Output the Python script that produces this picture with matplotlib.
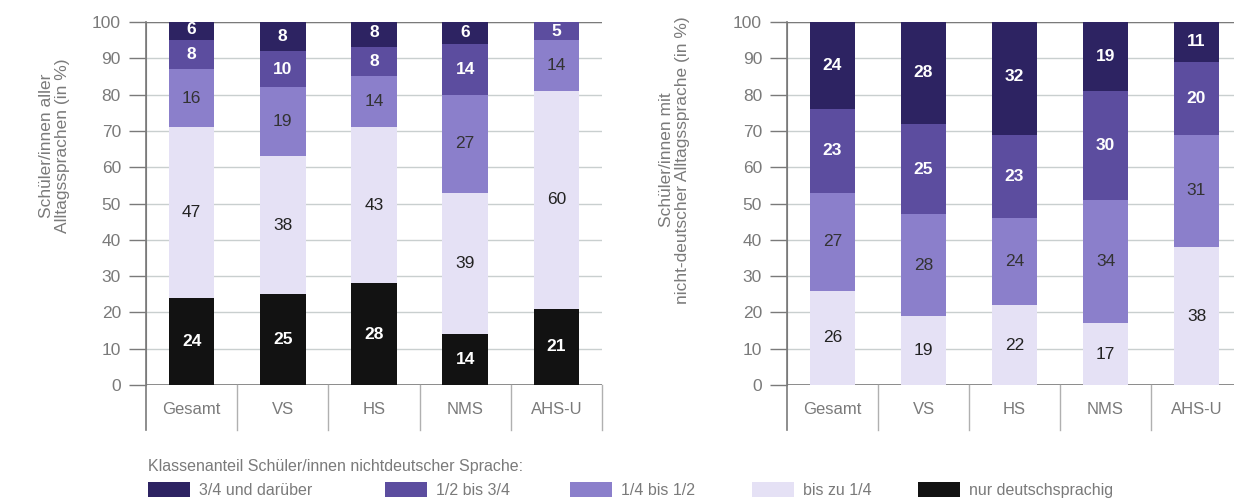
import matplotlib
matplotlib.use("Agg")
import matplotlib.pyplot as plt
import numpy as np

plt.rcParams['font.family'] = ['Liberation Sans', 'DejaVu Sans']

categories = ['Gesamt', 'VS', 'HS', 'NMS', 'AHS-U']

# Schüler/innen aller Alltagssprachen (in %)
left_nur_deutsch = [24, 25, 28, 14, 21]
left_bis_viertel = [47, 38, 43, 39, 60]
left_viertel_halb = [16, 19, 14, 27, 14]
left_halb_dreiviertel = [8, 10, 8, 14, 5]
left_ab_dreiviertel = [6, 8, 8, 6, 0]

# Schüler/innen mit nicht-deutscher Alltagssprache (in %)
right_bis_viertel = [26, 19, 22, 17, 38]
right_viertel_halb = [27, 28, 24, 34, 31]
right_halb_dreiviertel = [23, 25, 23, 30, 20]
right_ab_dreiviertel = [24, 28, 32, 19, 11]

legend_labels = ['3/4 und darüber', '1/2 bis 3/4', '1/4 bis 1/2',
                 'bis zu 1/4', 'nur deutschsprachig']

c_dark = '#2d2362'
c_mid = '#5c4d9f'
c_light = '#8b7fcb'
c_pale = '#e5e1f5'
c_black = '#121212'
grey = '#7a7a7a'

fig = plt.figure(figsize=(12.34, 5), dpi=100)
ax1 = fig.add_axes([146/1234, 115/500, 456/1234, 363/500])
ax2 = fig.add_axes([787/1234, 115/500, 455/1234, 363/500])

x = np.arange(len(categories))


def draw_stack(ax, layers):
    bottom = np.zeros(len(categories))
    handles = []
    for values, color, txt in layers:
        vals = np.array(values, dtype=float)
        h = ax.bar(x, vals, width=0.5, bottom=bottom, color=color, zorder=2)
        handles.append(h)
        for xi, v, b in zip(x, vals, bottom):
            if v <= 0:
                continue
            ax.text(xi, b + v / 2, f'{int(v)}', ha='center', va='center',
                    color=txt, fontsize=12.5,
                    fontweight='bold' if txt == 'white' else 'normal',
                    zorder=3)
        bottom += vals
    return handles


def style_axes(ax, ylabel, label_x, label_y):
    ax.set_xlim(-0.5, len(categories) - 0.5)
    ax.set_ylim(0, 100)
    ax.set_yticks(range(0, 101, 10))
    ax.grid(axis='y', color='#c9cfcf', linewidth=1, zorder=0)
    ax.set_axisbelow(True)
    for side in ['top', 'right', 'bottom']:
        ax.spines[side].set_visible(False)
    ax.spines['left'].set_color(grey)
    ax.spines['left'].set_bounds(0, 100)
    ax.tick_params(axis='y', colors=grey, labelcolor=grey, labelsize=12.5,
                   length=12, width=1, pad=6)
    ax.set_xticks(x)
    ax.set_xticklabels(categories, color=grey, fontsize=12)
    ax.tick_params(axis='x', length=0, pad=12)
    ax.axhline(0, color=grey, linewidth=1.2, zorder=1)
    ax.axhline(100, color=grey, linewidth=1, zorder=1)
    # category row with separators
    tr = ax.get_xaxis_transform()
    ax.plot([-0.5, -0.5], [1.0, -0.124], transform=tr, color=grey,
            linewidth=1.2, clip_on=False)
    for b in np.arange(0.5, len(categories), 1.0):
        ax.plot([b, b], [0, -0.124], transform=tr, color='#b0b0b0',
                linewidth=1, clip_on=False)
    ax.set_ylabel(ylabel, color=grey, fontsize=12.5, linespacing=1.1)
    ax.yaxis.set_label_coords(label_x, label_y)


handles = draw_stack(ax1, [
    (left_nur_deutsch, c_black, 'white'),
    (left_bis_viertel, c_pale, '#222222'),
    (left_viertel_halb, c_light, '#333333'),
    (left_halb_dreiviertel, c_mid, 'white'),
    (left_ab_dreiviertel, c_dark, 'white'),
])
draw_stack(ax2, [
    (right_bis_viertel, c_pale, '#222222'),
    (right_viertel_halb, c_light, '#333333'),
    (right_halb_dreiviertel, c_mid, 'white'),
    (right_ab_dreiviertel, c_dark, 'white'),
])

style_axes(ax1, 'Schüler/innen aller\nAlltagssprachen (in %)', -0.167, 0.66)
style_axes(ax2, 'Schüler/innen mit\nnicht-deutscher Alltagssprache (in %)',
           -0.213, 0.62)

fig.text(148/1234, 1 - 467/500, 'Klassenanteil Schüler/innen nichtdeutscher Sprache:',
         color=grey, fontsize=11.5, va='center', ha='left')

legend_handles = [handles[4], handles[3], handles[2], handles[1], handles[0]]
legend_x = [148, 385, 570, 752, 918]
for h, lab, lx in zip(legend_handles, legend_labels, legend_x):
    fig.legend([h], [lab], loc='center left', frameon=False,
               bbox_to_anchor=(lx/1234, 1 - 490/500), borderaxespad=0,
               borderpad=0, handlelength=2.6, handleheight=1.1,
               handletextpad=0.6, fontsize=11.5, labelcolor=grey)

fig.savefig('out.png', dpi=100, facecolor='white')
